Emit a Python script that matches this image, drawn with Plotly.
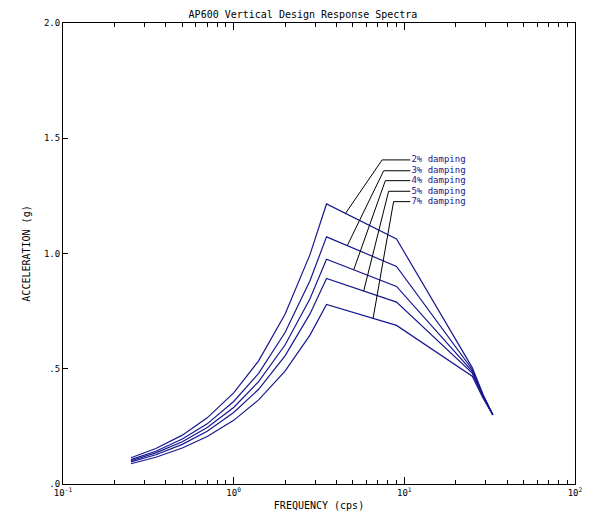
import numpy as np
import plotly.graph_objects as go

# ---- data ----
freq = [0.25, 0.35, 0.5, 0.7, 1.0, 1.4, 2.0, 2.8, 3.5, 9.0, 25.0, 29.0, 33.0]
damp_labels = ["2% damping", "3% damping", "4% damping", "5% damping", "7% damping"]
acc_2 = [0.114, 0.154, 0.212, 0.287, 0.395, 0.534, 0.736, 0.995, 1.215, 1.063, 0.505, 0.386, 0.300]
acc_3 = [0.106, 0.142, 0.195, 0.261, 0.358, 0.480, 0.657, 0.882, 1.072, 0.944, 0.497, 0.383, 0.300]
acc_4 = [0.101, 0.135, 0.183, 0.245, 0.332, 0.444, 0.603, 0.804, 0.975, 0.857, 0.489, 0.379, 0.300]
acc_5 = [0.096, 0.127, 0.172, 0.229, 0.310, 0.411, 0.556, 0.738, 0.892, 0.789, 0.481, 0.376, 0.300]
acc_7 = [0.088, 0.116, 0.156, 0.206, 0.276, 0.365, 0.490, 0.646, 0.779, 0.688, 0.468, 0.371, 0.300]
series = [acc_2, acc_3, acc_4, acc_5, acc_7]

x_tickvals = [0.1, 1, 10, 100]
x_ticktext = ["10<sup>-1</sup>", "10<sup>0</sup>", "10<sup>1</sup>", "10<sup>2</sup>"]
y_tickvals = [0, 0.5, 1.0, 1.5, 2.0]
y_ticktext = [".0", ".5", "1.0", "1.5", "2.0"]

# leader-line layout (where each pointer touches its curve, its elbow, label row)
leader_touch_f = [4.52, 4.63, 5.05, 5.78, 6.56]
leader_elbow_f = [7.41, 7.57, 7.74, 8.09, 8.65]
label_row_y = [1.406, 1.359, 1.316, 1.270, 1.225]
label_line_end_f = 10.84
label_text_f = 11.0

CURVE = "#17178f"
FONT = "DejaVu Sans Mono"

fig = go.Figure()
lf = np.log10(freq)
for acc in series:
    fig.add_trace(go.Scatter(x=freq, y=acc, mode="lines",
                             line=dict(color=CURVE, width=1.2),
                             showlegend=False, hoverinfo="skip"))

for acc, tf, ef, ly, lab in zip(series, leader_touch_f, leader_elbow_f, label_row_y, damp_labels):
    ty = float(np.interp(np.log10(tf), lf, acc))
    fig.add_trace(go.Scatter(x=[tf, ef, label_line_end_f], y=[ty, ly, ly], mode="lines",
                             line=dict(color="black", width=1),
                             showlegend=False, hoverinfo="skip"))
    fig.add_trace(go.Scatter(x=[label_text_f], y=[ly], mode="text", text=[lab],
                             textposition="middle right",
                             textfont=dict(family=FONT, size=9, color=CURVE),
                             showlegend=False, hoverinfo="skip", cliponaxis=False))

minor_vals = [m * d for d in (0.1, 1, 10) for m in range(2, 10)]

# the page body adds an 8px margin, so the figure is sized to fit the window
fig.update_layout(
    width=583, height=506,
    margin=dict(l=55, r=16, t=15, b=30),
    paper_bgcolor="white", plot_bgcolor="white",
    font=dict(family=FONT, size=10, color="black"),
    title=dict(text="AP600 Vertical Design Response Spectra",
               x=0.506, xanchor="center", xref="container",
               y=0.988, yanchor="middle", yref="container",
               font=dict(family=FONT, size=10, color="black")),
    xaxis=dict(type="log", range=[-1, 2], showgrid=False, zeroline=False,
               automargin=False,
               showline=True, linecolor="black", linewidth=1, mirror="ticks",
               ticks="inside", ticklen=7, tickcolor="black", tickwidth=1,
               tickvals=x_tickvals, ticktext=x_ticktext,
               tickfont=dict(family=FONT, size=9),
               minor=dict(tickvals=minor_vals, ticks="inside", ticklen=4,
                          tickcolor="black", tickwidth=1, showgrid=False),
               title=dict(text="FREQUENCY (cps)", standoff=5,
                          font=dict(family=FONT, size=10))),
    yaxis=dict(range=[0, 2], showgrid=False, zeroline=False,
               automargin=False,
               showline=True, linecolor="black", linewidth=1, mirror=True,
               ticks="inside", ticklen=5, tickcolor="black", tickwidth=1,
               tickvals=y_tickvals, ticktext=y_ticktext,
               tickfont=dict(family=FONT, size=9),
               title=dict(text="ACCELERATION (g)", standoff=11,
                          font=dict(family=FONT, size=10))),
)

fig.write_html("out.html")
